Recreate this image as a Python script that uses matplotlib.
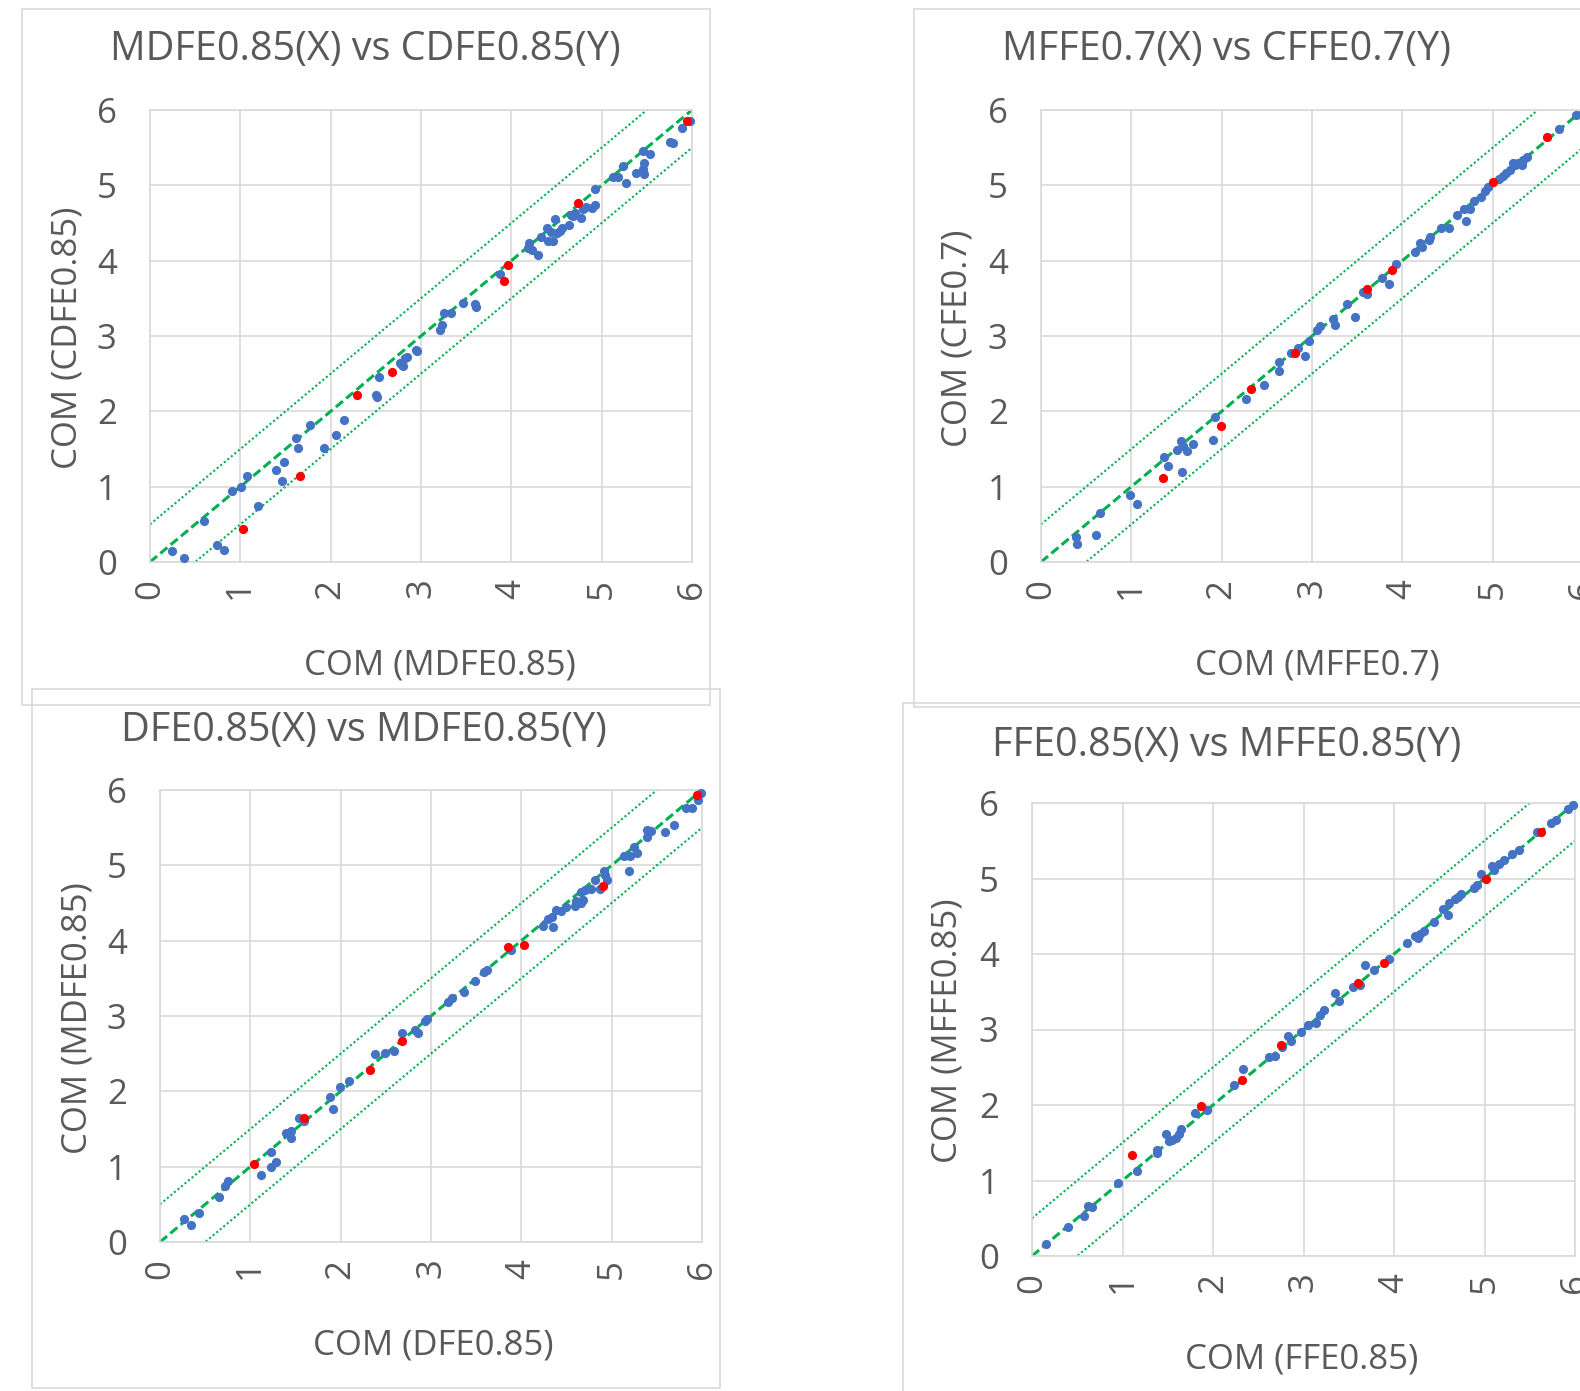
import matplotlib
matplotlib.use("Agg")
import matplotlib.pyplot as plt
from matplotlib.patches import Rectangle
import numpy as np

plt.rcParams['font.family'] = ['Open Sans', 'DejaVu Sans']

# ---- data ----
# panel 1: MDFE0.85 (x) vs CDFE0.85 (y)
p1_blue_x = [0.24, 0.38, 0.60, 0.74, 0.82, 0.91, 1.01, 1.07, 1.20, 1.39, 1.46, 1.48, 1.62, 1.64, 1.77,
             1.93, 2.06, 2.15, 2.50, 2.51, 2.53, 2.77, 2.79, 2.80, 2.84, 2.82, 2.94, 2.96, 3.21, 3.23,
             3.26, 3.33, 3.47, 3.60, 3.61, 3.87, 4.19, 4.20, 4.23, 4.30, 4.33, 4.40, 4.41, 4.46, 4.48,
             4.44, 4.50, 4.54, 4.56, 4.64, 4.66, 4.68, 4.71, 4.77, 4.79, 4.83, 4.89, 4.93, 4.93, 5.13,
             5.18, 5.24, 5.27, 5.38, 5.46, 5.47, 5.46, 5.47, 5.54, 5.76, 5.79, 5.89, 5.98]
p1_blue_y = [0.15, 0.05, 0.55, 0.22, 0.16, 0.94, 1.00, 1.14, 0.75, 1.22, 1.08, 1.33, 1.65, 1.51, 1.82,
             1.51, 1.69, 1.88, 2.22, 2.19, 2.45, 2.64, 2.61, 2.60, 2.72, 2.71, 2.82, 2.80, 3.08, 3.14,
             3.31, 3.31, 3.44, 3.42, 3.38, 3.82, 4.17, 4.24, 4.14, 4.07, 4.32, 4.43, 4.26, 4.26, 4.55,
             4.38, 4.37, 4.40, 4.43, 4.48, 4.60, 4.59, 4.63, 4.57, 4.68, 4.71, 4.70, 4.74, 4.95, 5.11,
             5.11, 5.26, 5.03, 5.16, 5.46, 5.30, 5.22, 5.15, 5.41, 5.58, 5.56, 5.76, 5.86]
p1_red_x = [1.03, 1.66, 2.29, 2.68, 3.92, 3.96, 4.74, 5.94]
p1_red_y = [0.44, 1.14, 2.22, 2.52, 3.73, 3.94, 4.76, 5.85]

# panel 2: MFFE0.7 (x) vs CFFE0.7 (y)
p2_blue_x = [0.39, 0.40, 0.61, 0.65, 0.98, 1.06, 1.36, 1.41, 1.51, 1.55, 1.57, 1.56, 1.62, 1.68, 1.90,
             1.93, 2.27, 2.47, 2.63, 2.64, 2.77, 2.85, 2.92, 2.97, 3.06, 3.09, 3.23, 3.26, 3.39, 3.48,
             3.56, 3.61, 3.78, 3.85, 3.93, 4.14, 4.20, 4.22, 4.29, 4.31, 4.43, 4.52, 4.60, 4.68, 4.70,
             4.75, 4.79, 4.87, 4.91, 4.95, 5.07, 5.11, 5.15, 5.19, 5.23, 5.25, 5.28, 5.32, 5.34, 5.38,
             5.73, 5.92]
p2_blue_y = [0.33, 0.24, 0.36, 0.65, 0.89, 0.77, 1.39, 1.28, 1.49, 1.60, 1.54, 1.19, 1.47, 1.56, 1.62,
             1.92, 2.17, 2.35, 2.54, 2.66, 2.77, 2.84, 2.74, 2.93, 3.08, 3.13, 3.23, 3.14, 3.43, 3.25,
             3.58, 3.56, 3.77, 3.69, 3.96, 4.11, 4.23, 4.18, 4.28, 4.31, 4.43, 4.44, 4.60, 4.69, 4.53,
             4.68, 4.79, 4.85, 4.93, 4.98, 5.08, 5.12, 5.16, 5.21, 5.30, 5.27, 5.30, 5.27, 5.34, 5.38,
             5.75, 5.94]
p2_red_x = [1.35, 1.99, 2.33, 2.81, 3.61, 3.89, 5.00, 5.60]
p2_red_y = [1.11, 1.81, 2.29, 2.78, 3.63, 3.87, 5.05, 5.64]

# panel 3: DFE0.85 (x) vs MDFE0.85 (y)
p3_blue_x = [0.27, 0.34, 0.43, 0.65, 0.72, 0.75, 1.12, 1.23, 1.23, 1.28, 1.39, 1.45, 1.45, 1.54, 1.59,
             1.88, 1.92, 1.99, 2.09, 2.38, 2.49, 2.59, 2.68, 2.82, 2.86, 2.93, 2.96, 3.19, 3.23, 3.36,
             3.49, 3.59, 3.62, 3.89, 4.24, 4.35, 4.29, 4.34, 4.38, 4.44, 4.49, 4.59, 4.60, 4.66, 4.68,
             4.66, 4.70, 4.77, 4.81, 4.87, 4.91, 4.95, 4.93, 5.19, 5.14, 5.20, 5.25, 5.28, 5.39, 5.39,
             5.44, 5.59, 5.69, 5.82, 5.89, 5.96, 5.99]
p3_blue_y = [0.30, 0.23, 0.38, 0.60, 0.75, 0.81, 0.89, 1.20, 1.00, 1.06, 1.45, 1.48, 1.38, 1.64, 1.60,
             1.92, 1.77, 2.06, 2.14, 2.49, 2.51, 2.53, 2.78, 2.81, 2.77, 2.93, 2.96, 3.18, 3.24, 3.32,
             3.46, 3.59, 3.61, 3.87, 4.20, 4.18, 4.29, 4.32, 4.41, 4.39, 4.45, 4.46, 4.52, 4.50, 4.54,
             4.65, 4.67, 4.69, 4.80, 4.69, 4.93, 4.81, 4.87, 4.92, 5.12, 5.12, 5.25, 5.17, 5.38, 5.47,
             5.45, 5.44, 5.53, 5.76, 5.76, 5.87, 5.96]
p3_red_x = [1.04, 1.59, 2.33, 2.68, 3.85, 4.03, 4.90, 5.94]
p3_red_y = [1.03, 1.65, 2.28, 2.67, 3.91, 3.94, 4.73, 5.93]

# panel 4: FFE0.85 (x) vs MFFE0.85 (y)
p4_blue_x = [0.16, 0.40, 0.57, 0.62, 0.66, 0.95, 1.16, 1.38, 1.38, 1.48, 1.51, 1.55, 1.59, 1.62, 1.65,
             1.80, 1.93, 2.23, 2.33, 2.62, 2.69, 2.76, 2.83, 2.86, 2.97, 3.05, 3.14, 3.18, 3.23, 3.35,
             3.39, 3.55, 3.62, 3.68, 3.78, 3.94, 4.14, 4.23, 4.26, 4.29, 4.33, 4.44, 4.54, 4.60, 4.61,
             4.67, 4.71, 4.74, 4.88, 4.92, 4.96, 5.08, 5.10, 5.16, 5.22, 5.30, 5.38, 5.58, 5.74, 5.79,
             5.92, 5.98]
p4_blue_y = [0.16, 0.39, 0.53, 0.66, 0.65, 0.97, 1.13, 1.41, 1.36, 1.62, 1.52, 1.54, 1.56, 1.61, 1.68,
             1.90, 1.93, 2.26, 2.48, 2.64, 2.65, 2.77, 2.91, 2.85, 2.97, 3.06, 3.09, 3.19, 3.26, 3.48,
             3.38, 3.56, 3.59, 3.85, 3.79, 3.93, 4.14, 4.24, 4.21, 4.26, 4.31, 4.42, 4.60, 4.52, 4.68,
             4.73, 4.75, 4.80, 4.87, 4.92, 5.06, 5.17, 5.11, 5.19, 5.24, 5.33, 5.38, 5.61, 5.73, 5.77,
             5.92, 5.98]
p4_red_x = [1.11, 1.87, 2.32, 2.75, 3.60, 3.89, 5.02, 5.62]
p4_red_y = [1.34, 1.99, 2.33, 2.79, 3.61, 3.88, 5.00, 5.62]

titles = ["MDFE0.85(X) vs CDFE0.85(Y)", "MFFE0.7(X) vs CFFE0.7(Y)",
          "DFE0.85(X) vs MDFE0.85(Y)", "FFE0.85(X) vs MFFE0.85(Y)"]
xlabels = ["COM (MDFE0.85)", "COM (MFFE0.7)", "COM (DFE0.85)", "COM (FFE0.85)"]
ylabels = ["COM (CDFE0.85)", "COM (CFE0.7)", "COM (MDFE0.85)", "COM (MFFE0.85)"]
ticks = [0, 1, 2, 3, 4, 5, 6]
band_offsets = [-0.5, 0.5]

# ---- layout (pixel positions on the 1580x1391 canvas) ----
W, H = 1580, 1391
# axes: x0, x1, y_top, y_bottom
axes_px = [(150, 692, 110, 562), (1041, 1583, 110, 562),
           (160, 702, 790, 1242), (1032, 1575, 803, 1256)]
# outer chart boxes: x0, x1, y_top, y_bottom
box_px = [(22, 710, 9, 705), (914, 1700, 9, 707),
          (32, 720, 689, 1388), (903, 1700, 703, 1500)]
title_px = [(365, 50), (1226, 50), (364, 731), (1227, 746)]
xlab_px = [(440, 666), (1317, 666), (433, 1346), (1302, 1360)]
ylab_px = [(68, 338), (958, 338), (78, 1018), (947, 1031)]

TXT = '#595959'
GRID = '#D9D9D9'
GREEN = '#00B050'
BLUE = '#4472C4'

fig = plt.figure(figsize=(W / 100, H / 100), dpi=100)

for (bx0, bx1, by0, by1) in box_px:
    fig.patches.append(Rectangle((bx0 / W, 1 - by1 / H), (bx1 - bx0) / W, (by1 - by0) / H,
                                 transform=fig.transFigure, fill=False,
                                 edgecolor=GRID, lw=1.2))

data = [(p1_blue_x, p1_blue_y, p1_red_x, p1_red_y),
        (p2_blue_x, p2_blue_y, p2_red_x, p2_red_y),
        (p3_blue_x, p3_blue_y, p3_red_x, p3_red_y),
        (p4_blue_x, p4_blue_y, p4_red_x, p4_red_y)]

for i in range(4):
    x0, x1, yt, yb = axes_px[i]
    ax = fig.add_axes([x0 / W, 1 - yb / H, (x1 - x0) / W, (yb - yt) / H])
    bx, by, rx, ry = data[i]

    # 1:1 line and +/-0.5 band
    ref = np.array([0, 6])
    ax.plot(ref, ref, color=GREEN, lw=2.2, ls=(0, (3, 1.4)), zorder=2)
    for off in band_offsets:
        ax.plot(ref, ref + off, color=GREEN, lw=1.5, ls=(0, (1, 1.2)), zorder=2)

    ax.scatter(bx, by, s=44, color=BLUE, zorder=3, clip_on=False, linewidths=0)
    ax.scatter(rx, ry, s=44, color='#FF0000', zorder=4, clip_on=False, linewidths=0)

    ax.set_xlim(0, 6)
    ax.set_ylim(0, 6)
    ax.set_xticks(ticks)
    ax.set_yticks(ticks)
    ax.grid(True, color=GRID, lw=1.2)
    ax.set_axisbelow(True)
    for sp in ax.spines.values():
        sp.set_color(GRID)
        sp.set_linewidth(1.2)
    ax.tick_params(length=0, labelsize=25, colors=TXT)
    ax.tick_params(axis='y', pad=24)
    ax.tick_params(axis='x', pad=12, labelrotation=90)

    tx, ty = title_px[i]
    fig.text(tx / W, 1 - ty / H, titles[i], ha='center', va='center', fontsize=28.5, color=TXT)
    lx, ly = xlab_px[i]
    fig.text(lx / W, 1 - ly / H, xlabels[i], ha='center', va='center', fontsize=25, color=TXT)
    yx, yy = ylab_px[i]
    fig.text(yx / W, 1 - yy / H, ylabels[i], ha='center', va='center', fontsize=25,
             color=TXT, rotation=90)

fig.savefig('out.png', dpi=100)
